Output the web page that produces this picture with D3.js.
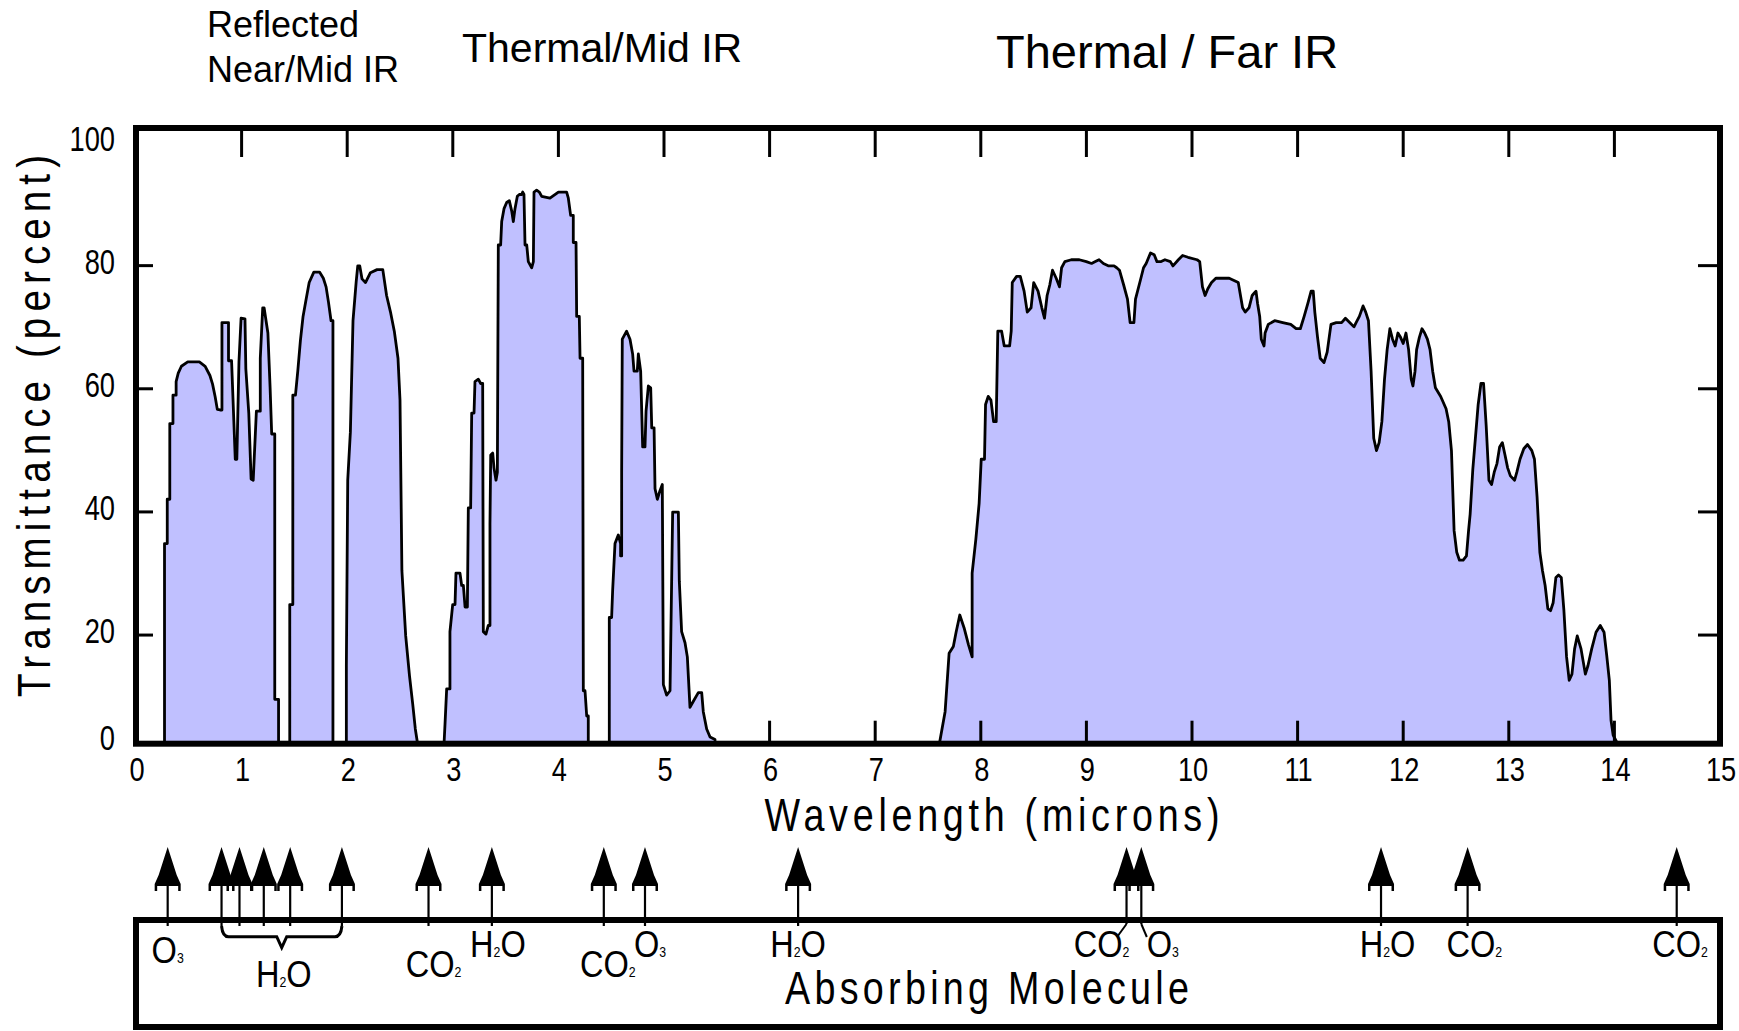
<!DOCTYPE html>
<html><head><meta charset="utf-8">
<script src="https://cdn.jsdelivr.net/npm/d3@7"></script>
<style>
html,body{margin:0;padding:0;background:#fff;}
svg{display:block;}
</style></head><body>
<svg id="chart" width="1739" height="1031"></svg>
<script>
// ---------------- DATA ----------------
// Atmospheric transmittance curve: [wavelength (microns), transmittance (percent)]
const transmittanceCurve = [
[0.27,0],[0.27,32.5],[0.296,32.5],[0.296,39.7],[0.32,39.7],[0.32,52],[0.35,52],[0.35,56.6],[0.38,56.6],[0.38,58.8],[0.40,60.2],[0.43,61.3],[0.49,62],[0.60,62],[0.655,61.3],[0.70,59.8],[0.725,58.4],[0.75,56.3],[0.77,54.3],[0.796,54.2],[0.814,54.2],[0.814,68.4],[0.876,68.4],[0.876,62.2],[0.905,62.2],[0.94,46.2],[0.955,46.2],[0.975,62],[0.995,69.1],[1.032,69],[1.04,60.9],[1.068,53.7],[1.09,43],[1.11,42.8],[1.14,54],[1.177,54],[1.177,62.6],[1.2,70.8],[1.213,70.8],[1.249,66.7],[1.27,57.8],[1.285,50.3],[1.314,50.3],[1.314,7.2],[1.35,7.2],[1.35,0],
[1.456,0],[1.456,22.6],[1.485,22.6],[1.485,56.6],[1.51,56.6],[1.532,60.5],[1.557,65.5],[1.582,69.4],[1.611,72.2],[1.64,74.9],[1.684,76.6],[1.738,76.6],[1.774,75.6],[1.80,74.2],[1.822,71.8],[1.847,68.7],[1.865,68.7],[1.865,0],
[1.992,0],[1.992,12.7],[2.005,42.8],[2.03,50.6],[2.055,68.7],[2.085,75],[2.10,77.6],[2.119,77.6],[2.14,75.5],[2.173,74.9],[2.22,76.5],[2.283,77.0],[2.337,77.0],[2.373,72.8],[2.41,70.1],[2.446,67.0],[2.481,62.6],[2.50,55.8],[2.518,28.1],[2.554,17.5],[2.59,11.0],[2.62,6.5],[2.645,2.4],[2.663,0.4],[2.663,0],
[2.917,0],[2.926,3.1],[2.942,8.9],[2.973,8.9],[2.973,18.2],[2.999,22.6],[3.021,22.6],[3.03,27.7],[3.068,27.7],[3.084,25.7],[3.10,25.7],[3.116,22.2],[3.138,22.2],[3.147,38.3],[3.169,38.3],[3.179,53.7],[3.201,53.7],[3.21,58.8],[3.242,59.2],[3.264,58.5],[3.283,58.5],[3.289,18.2],[3.314,17.8],[3.336,19.2],[3.352,19.2],[3.352,35.6],[3.359,46.9],[3.378,47.2],[3.39,44.8],[3.409,42.8],[3.422,44.1],[3.431,81.0],[3.453,81.0],[3.463,84.8],[3.485,86.9],[3.51,87.9],[3.535,88.2],[3.558,86.5],[3.573,84.8],[3.589,86.9],[3.611,88.9],[3.63,89.2],[3.652,89.2],[3.662,89.6],[3.674,89.2],[3.684,81.0],[3.70,81.0],[3.715,78.3],[3.747,77.3],[3.763,78.3],[3.769,89.6],[3.794,89.9],[3.819,89.6],[3.842,88.9],[3.92,88.6],[4.0,89.6],[4.078,89.6],[4.094,88.6],[4.116,85.8],[4.141,85.8],[4.141,81.4],[4.167,81.4],[4.173,69.4],[4.198,69.4],[4.205,62.6],[4.23,62.6],[4.236,8.6],[4.252,8.6],[4.268,4.5],[4.283,4.5],[4.283,0],
[4.482,0],[4.482,20.5],[4.504,20.5],[4.514,25.0],[4.536,32.5],[4.567,33.9],[4.589,32.5],[4.589,30.5],[4.599,30.5],[4.599,44.1],[4.605,65.7],[4.646,67.0],[4.678,65.7],[4.703,63.3],[4.716,60.5],[4.747,60.5],[4.757,63.3],[4.779,60.5],[4.798,48.2],[4.82,48.2],[4.83,54.0],[4.852,58.1],[4.874,57.8],[4.884,51.3],[4.906,51.3],[4.915,41.4],[4.937,39.7],[4.962,41.1],[4.984,42.1],[4.994,9.6],[5.025,7.9],[5.057,8.6],[5.082,37.6],[5.136,37.6],[5.145,26.4],[5.167,18.2],[5.199,16.4],[5.221,14.1],[5.246,5.9],[5.278,6.9],[5.325,8.3],[5.357,8.3],[5.372,5.2],[5.404,2.4],[5.436,1.1],[5.483,0.7],[5.483,0],
[7.612,0],[7.612,0.4],[7.662,5.2],[7.70,14.7],[7.74,15.8],[7.766,18.1],[7.801,20.9],[7.842,18.8],[7.883,16.1],[7.918,14.1],[7.918,27.7],[7.953,33.2],[7.984,39.0],[8.004,46.2],[8.035,46.2],[8.045,55.1],[8.07,56.4],[8.096,55.8],[8.121,52.3],[8.146,52.3],[8.161,67.0],[8.197,67.0],[8.222,64.6],[8.273,64.6],[8.288,67.0],[8.298,74.9],[8.339,75.9],[8.374,75.9],[8.41,73.5],[8.44,70.1],[8.476,70.8],[8.501,74.9],[8.542,73.5],[8.578,70.8],[8.603,69.1],[8.628,72.8],[8.653,74.5],[8.679,76.9],[8.714,75.6],[8.745,74.2],[8.765,77.3],[8.796,78.3],[8.857,78.6],[8.933,78.6],[8.999,78.3],[9.049,78.0],[9.085,78.3],[9.12,78.6],[9.161,78.0],[9.211,77.6],[9.262,77.6],[9.287,77.3],[9.313,76.9],[9.353,74.5],[9.389,72.2],[9.414,68.4],[9.45,68.4],[9.465,72.2],[9.516,75.6],[9.541,77.3],[9.566,78.0],[9.607,79.7],[9.642,79.4],[9.668,78.3],[9.708,78.3],[9.744,78.6],[9.795,78.3],[9.82,77.6],[9.871,78.6],[9.911,79.3],[9.962,79.0],[10.048,78.6],[10.073,78.3],[10.099,74.2],[10.124,72.8],[10.15,73.9],[10.185,74.9],[10.226,75.6],[10.276,75.6],[10.352,75.6],[10.403,75.2],[10.438,74.9],[10.479,70.8],[10.504,70.1],[10.54,70.8],[10.57,72.8],[10.59,73.2],[10.606,73.5],[10.621,71.5],[10.641,69.4],[10.656,65.7],[10.682,64.6],[10.692,66.7],[10.722,68.1],[10.783,68.7],[10.859,68.4],[10.935,68.1],[10.986,67.4],[11.026,67.4],[11.062,69.4],[11.097,71.5],[11.128,73.5],[11.148,73.5],[11.163,70.1],[11.189,66.0],[11.214,62.6],[11.25,61.9],[11.28,63.6],[11.316,68.1],[11.366,68.4],[11.417,68.4],[11.453,69.1],[11.493,68.4],[11.534,67.7],[11.554,68.4],[11.585,69.4],[11.62,71.1],[11.645,70.1],[11.671,68.7],[11.696,60.5],[11.721,49.6],[11.747,47.6],[11.772,48.9],[11.798,52.3],[11.823,59.2],[11.848,64.0],[11.874,67.4],[11.899,65.7],[11.924,64.6],[11.95,66.7],[11.975,66.0],[12.0,65.0],[12.026,66.7],[12.051,64.0],[12.076,59.2],[12.092,58.1],[12.112,60.5],[12.127,64.0],[12.153,66.0],[12.178,67.4],[12.203,66.7],[12.229,65.7],[12.254,64.0],[12.279,60.5],[12.305,57.8],[12.355,56.4],[12.406,54.4],[12.431,52.3],[12.457,47.6],[12.482,34.6],[12.507,31.1],[12.533,29.8],[12.568,29.8],[12.599,30.5],[12.619,34.6],[12.634,37.3],[12.659,44.5],[12.685,49.9],[12.71,55.1],[12.736,58.5],[12.761,58.5],[12.786,51.6],[12.812,42.8],[12.837,42.1],[12.862,44.1],[12.888,45.5],[12.913,48.2],[12.939,48.9],[12.964,46.9],[12.989,44.8],[13.015,43.5],[13.055,42.8],[13.076,44.1],[13.106,46.2],[13.142,47.9],[13.177,48.6],[13.218,47.6],[13.243,46.2],[13.268,40.0],[13.294,31.1],[13.319,28.1],[13.344,25.7],[13.37,21.9],[13.395,21.6],[13.42,22.9],[13.446,27.0],[13.471,27.4],[13.497,27.0],[13.522,21.6],[13.547,14.1],[13.572,10.3],[13.598,11.3],[13.623,15.4],[13.648,17.5],[13.684,15.4],[13.725,11.3],[13.75,12.7],[13.785,15.4],[13.826,18.1],[13.866,19.2],[13.902,18.1],[13.927,14.4],[13.952,10.3],[13.968,3.8],[13.988,1.4],[14.018,0.4],[14.018,0]
];

const xTickLabels = [0,1,2,3,4,5,6,7,8,9,10,11,12,13,14,15];
const xTopTicks = [1,2,3,4,5,6,7,8,9,10,11,12,13,14];
const xBottomTicks = [6,7,8,9,10,11,12,13,14];
const yTickLabels = [0,20,40,60,80,100];
const yTickMarks = [20,40,60,80];

// Absorption band positions (microns)
const absorberWavelengths = [0.30,0.81,0.98,1.21,1.46,1.95,2.77,3.37,4.43,4.82,6.27,9.38,9.52,11.79,12.61,14.59];
const absorberNames = ["O3","H2O","CO2","H2O","CO2","O3","H2O","CO2","O3","H2O","CO2","CO2"];
// wavelength(s) each name refers to (grouped H2O uses a brace)
const absorberNameRefs = [[0.30],[0.81,1.95],[2.77],[3.37],[4.43],[4.82],[6.27],[9.38],[9.52],[11.79],[12.61],[14.59]];

const regionTitles = [["Reflected","Near/Mid IR"],["Thermal/Mid IR"],["Thermal / Far IR"]];
const axisTitleX = "Wavelength (microns)";
const axisTitleY = "Transmittance (percent)";
const boxTitle = "Absorbing Molecule";

// ---------------- LAYOUT ----------------
const frame = {left:136, right:1720, top:128, bottom:743.7};
const box = {top:920, bottom:1027};
const nameLayout = [[0,963],[2,987],[5,977],[6,957],[4,977],[5,957],[0,957],[-25,957],[21.5,957],[6.5,957],[6.7,957],[3.4,957]];
const leaderLayout = {9.38:-9.5, 9.52:5.5};
const titleLayout = [
  {x:207, y:[37,82], size:36},
  {x:462, y:[62], size:41},
  {x:996, y:[68], size:47}
];
const SANS = "'Liberation Sans',Arial,Helvetica,sans-serif";

const x = d3.scaleLinear().domain([0,15]).range([frame.left, frame.right]);
const y = d3.scaleLinear().domain([0,100]).range([frame.bottom, frame.top]);
const svg = d3.select('#chart');

// narrow text helper: horizontally condensed glyphs
function narrowText(g, s, tx, ty, size, opts={}){
  const sx = opts.sx || 0.82;
  let tr = `translate(${tx},${ty})`;
  if (opts.rotate) tr += ` rotate(${opts.rotate})`;
  tr += ` scale(${sx},1)`;
  const t = g.append('text').attr('transform',tr).attr('x',0).attr('y',0)
    .attr('text-anchor',opts.anchor||'middle')
    .attr('font-family',SANS).attr('font-size',size);
  if (opts.length) t.attr('textLength',opts.length/sx).attr('lengthAdjust','spacing');
  if (opts.dy) t.attr('dy',opts.dy);
  if (opts.chem){
    for (const ch of s){
      if (/[0-9]/.test(ch)) t.append('tspan').attr('font-size',opts.sub||14).text(ch);
      else t.append('tspan').text(ch);
    }
  } else t.text(s);
  return t;
}

// Area + curve
svg.append('path').datum(transmittanceCurve)
  .attr('d', d3.area().x(d=>x(d[0])).y0(y(0)).y1(d=>y(d[1])))
  .attr('fill','#c0c0ff');
svg.append('path').datum(transmittanceCurve)
  .attr('d', d3.line().x(d=>x(d[0])).y(d=>y(d[1])))
  .attr('fill','none').attr('stroke','#000').attr('stroke-width',2.8)
  .attr('stroke-linejoin','round');

// Frame
svg.append('rect').attr('x',frame.left).attr('y',frame.top)
  .attr('width',frame.right-frame.left).attr('height',frame.bottom-frame.top)
  .attr('fill','none').attr('stroke','#000').attr('stroke-width',6);

// Ticks
const tickG = svg.append('g').attr('stroke','#000').attr('stroke-width',3);
tickG.selectAll('.tt').data(xTopTicks).join('line')
  .attr('x1',d=>x(d)).attr('x2',d=>x(d)).attr('y1',frame.top).attr('y2',frame.top+29);
tickG.selectAll('.bt').data(xBottomTicks).join('line')
  .attr('x1',d=>x(d)).attr('x2',d=>x(d)).attr('y1',frame.bottom).attr('y2',frame.bottom-23);
const yTickShift = 14.5;
tickG.selectAll('.lt').data(yTickMarks).join('line')
  .attr('x1',frame.left).attr('x2',frame.left+17).attr('y1',d=>y(d)+yTickShift).attr('y2',d=>y(d)+yTickShift);
tickG.selectAll('.rt').data(yTickMarks).join('line')
  .attr('x1',frame.right-22).attr('x2',frame.right).attr('y1',d=>y(d)+yTickShift).attr('y2',d=>y(d)+yTickShift);

// Tick labels
const xLab = svg.append('g');
xTickLabels.forEach(v=> narrowText(xLab, String(v), x(v)+1, 781, 34, {sx:0.8}));
const yLab = svg.append('g');
yTickLabels.forEach(v=> narrowText(yLab, String(v), 115,
  Math.max(y(100)+3.5, Math.min(y(v)+10, y(0)-6)), 35, {sx:0.78, anchor:'end', dy:'0.36em'}));

// Axis titles
narrowText(svg, axisTitleX, 992, 831, 46, {length:455});
narrowText(svg, axisTitleY, 50, 426, 47, {length:542, rotate:-90});

// Region titles
regionTitles.forEach((lines,i)=>{
  const L = titleLayout[i];
  lines.forEach((s,j)=>{
    svg.append('text').attr('x',L.x).attr('y',L.y[j])
      .attr('font-family',SANS).attr('font-size',L.size).text(s);
  });
});

// Absorbing molecule box
svg.append('rect').attr('x',frame.left).attr('y',box.top)
  .attr('width',frame.right-frame.left).attr('height',box.bottom-box.top)
  .attr('fill','none').attr('stroke','#000').attr('stroke-width',6);
narrowText(svg, boxTitle, 987, 1004, 46, {length:404});

// Arrows
const tipY = 847, baseY = 884, shaftEnd = 926;
const headPath = cx => {
  const p = [[cx,tipY],[cx+4.5,tipY+14],[cx+9,tipY+28],[cx+13,baseY],[cx+13,baseY+7],[cx+10.5,baseY+7],[cx+10.5,baseY+2],
             [cx-10.5,baseY+2],[cx-10.5,baseY+7],[cx-13,baseY+7],[cx-13,baseY],[cx-9,tipY+28],[cx-4.5,tipY+14]];
  return 'M'+p.map(q=>q.join(',')).join('L')+'Z';
};
const arrowG = svg.append('g');
absorberWavelengths.forEach(w=>{
  const cx = x(w);
  const lead = leaderLayout[w];
  arrowG.append('line').attr('x1',cx).attr('x2',cx).attr('y1',tipY+10)
    .attr('y2', lead===undefined ? shaftEnd : box.top+4)
    .attr('stroke','#000').attr('stroke-width',2.2);
  if (lead!==undefined){
    arrowG.append('line').attr('x1',cx).attr('y1',box.top+4).attr('x2',cx+lead).attr('y2',box.top+17)
      .attr('stroke','#000').attr('stroke-width',2);
  }
  arrowG.append('path').attr('d',headPath(cx)).attr('fill','#000');
});

// Brace for grouped H2O
const gRef = absorberNameRefs[1];
const bx0 = x(gRef[0]), bx1 = x(gRef[1]), bm = (bx0+bx1)/2, by = 936.7;
svg.append('path')
  .attr('d',`M${bx0},${box.top+6} Q${bx0+1},${by} ${bx0+7},${by} L${bm-5},${by} L${bm},${by+11} L${bm+5},${by} L${bx1-7},${by} Q${bx1-1},${by} ${bx1},${box.top+6}`)
  .attr('fill','none').attr('stroke','#000').attr('stroke-width',3);

// Molecule names with subscripts
const nameG = svg.append('g');
absorberNames.forEach((n,i)=>{
  const refs = absorberNameRefs[i];
  const cx = refs.length>1 ? (x(refs[0])+x(refs[1]))/2 : x(refs[0]);
  narrowText(nameG, n, cx + nameLayout[i][0], nameLayout[i][1], 37, {sx:0.88, chem:true, sub:14});
});
</script>
</body></html>
